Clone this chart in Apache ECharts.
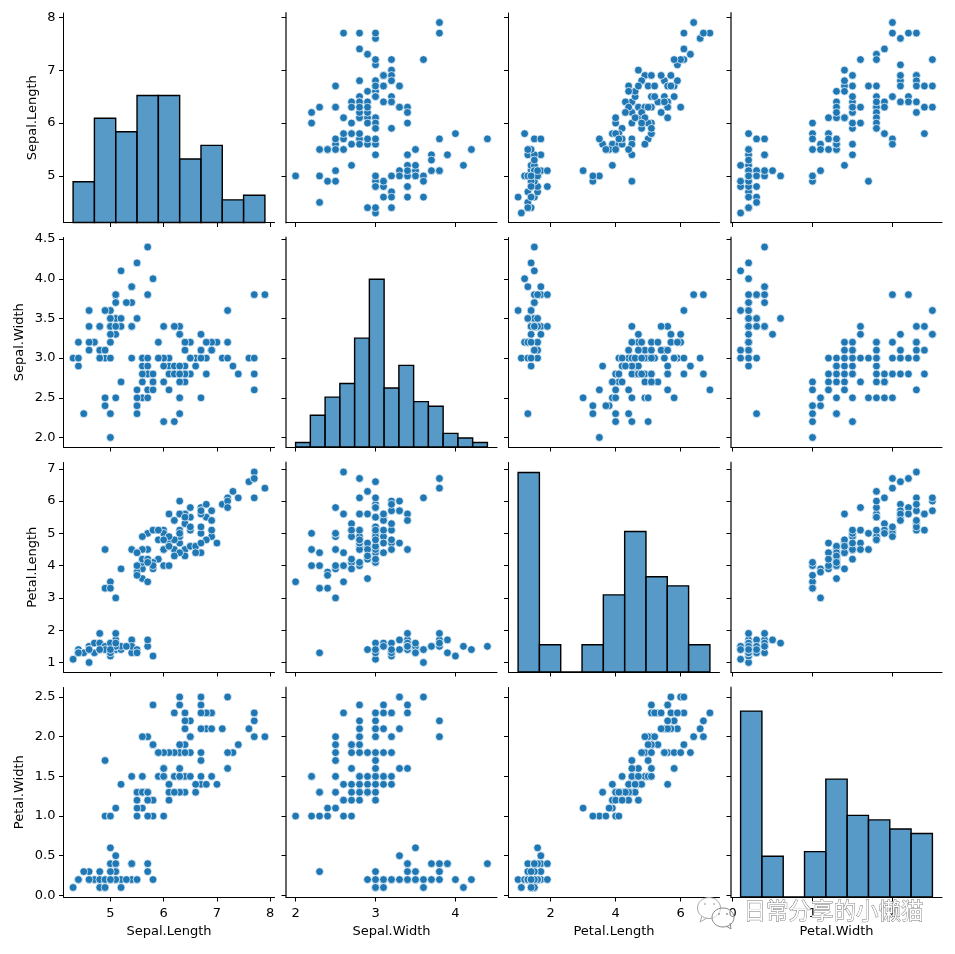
<!DOCTYPE html>
<html lang="en">
<head>
<meta charset="UTF-8">
<title>Iris pair plot</title>
<script src="https://cdn.jsdelivr.net/npm/echarts@6/dist/echarts.min.js"></script>
<style>
  *{margin:0;padding:0}
  html,body{width:100%;height:100%;background:#fff}
  #main{width:955px;height:954px}
</style>
</head>
<body>
<div id="main"></div>
<script>
var varNames = ['Sepal.Length', 'Sepal.Width', 'Petal.Length', 'Petal.Width'];

var sepalLength = [5.1,4.9,4.7,4.6,5.0,5.4,4.6,5.0,4.4,4.9,5.4,4.8,4.8,4.3,5.8,5.7,5.4,5.1,5.7,5.1,5.4,5.1,4.6,5.1,4.8,5.0,5.0,5.2,5.2,4.7,4.8,5.4,5.2,5.5,4.9,5.0,5.5,4.9,4.4,5.1,5.0,4.5,4.4,5.0,5.1,4.8,5.1,4.6,5.3,5.0,
  7.0,6.4,6.9,5.5,6.5,5.7,6.3,4.9,6.6,5.2,5.0,5.9,6.0,6.1,5.6,6.7,5.6,5.8,6.2,5.6,5.9,6.1,6.3,6.1,6.4,6.6,6.8,6.7,6.0,5.7,5.5,5.5,5.8,6.0,5.4,6.0,6.7,6.3,5.6,5.5,5.5,6.1,5.8,5.0,5.6,5.7,5.7,6.2,5.1,5.7,
  6.3,5.8,7.1,6.3,6.5,7.6,4.9,7.3,6.7,7.2,6.5,6.4,6.8,5.7,5.8,6.4,6.5,7.7,7.7,6.0,6.9,5.6,7.7,6.3,6.7,7.2,6.2,6.1,6.4,7.2,7.4,7.9,6.4,6.3,6.1,7.7,6.3,6.4,6.0,6.9,6.7,6.9,5.8,6.8,6.7,6.7,6.3,6.5,6.2,5.9];
var sepalWidth = [3.5,3.0,3.2,3.1,3.6,3.9,3.4,3.4,2.9,3.1,3.7,3.4,3.0,3.0,4.0,4.4,3.9,3.5,3.8,3.8,3.4,3.7,3.6,3.3,3.4,3.0,3.4,3.5,3.4,3.2,3.1,3.4,4.1,4.2,3.1,3.2,3.5,3.6,3.0,3.4,3.5,2.3,3.2,3.5,3.8,3.0,3.8,3.2,3.7,3.3,
  3.2,3.2,3.1,2.3,2.8,2.8,3.3,2.4,2.9,2.7,2.0,3.0,2.2,2.9,2.9,3.1,3.0,2.7,2.2,2.5,3.2,2.8,2.5,2.8,2.9,3.0,2.8,3.0,2.9,2.6,2.4,2.4,2.7,2.7,3.0,3.4,3.1,2.3,3.0,2.5,2.6,3.0,2.6,2.3,2.7,3.0,2.9,2.9,2.5,2.8,
  3.3,2.7,3.0,2.9,3.0,3.0,2.5,2.9,2.5,3.6,3.2,2.7,3.0,2.5,2.8,3.2,3.0,3.8,2.6,2.2,3.2,2.8,2.8,2.7,3.3,3.2,2.8,3.0,2.8,3.0,2.8,3.8,2.8,2.8,2.6,3.0,3.4,3.1,3.0,3.1,3.1,3.1,2.7,3.2,3.3,3.0,2.5,3.0,3.4,3.0];
var petalLength = [1.4,1.4,1.3,1.5,1.4,1.7,1.4,1.5,1.4,1.5,1.5,1.6,1.4,1.1,1.2,1.5,1.3,1.4,1.7,1.5,1.7,1.5,1.0,1.7,1.9,1.6,1.6,1.5,1.4,1.6,1.6,1.5,1.5,1.4,1.5,1.2,1.3,1.4,1.3,1.5,1.3,1.3,1.3,1.6,1.9,1.4,1.6,1.4,1.5,1.4,
  4.7,4.5,4.9,4.0,4.6,4.5,4.7,3.3,4.6,3.9,3.5,4.2,4.0,4.7,3.6,4.4,4.5,4.1,4.5,3.9,4.8,4.0,4.9,4.7,4.3,4.4,4.8,5.0,4.5,3.5,3.8,3.7,3.9,5.1,4.5,4.5,4.7,4.4,4.1,4.0,4.4,4.6,4.0,3.3,4.2,4.2,4.2,4.3,3.0,4.1,
  6.0,5.1,5.9,5.6,5.8,6.6,4.5,6.3,5.8,6.1,5.1,5.3,5.5,5.0,5.1,5.3,5.5,6.7,6.9,5.0,5.7,4.9,6.7,4.9,5.7,6.0,4.8,4.9,5.6,5.8,6.1,6.4,5.6,5.1,5.6,6.1,5.6,5.5,4.8,5.4,5.6,5.1,5.1,5.9,5.7,5.2,5.0,5.2,5.4,5.1];
var petalWidth = [0.2,0.2,0.2,0.2,0.2,0.4,0.3,0.2,0.2,0.1,0.2,0.2,0.1,0.1,0.2,0.4,0.4,0.3,0.3,0.3,0.2,0.4,0.2,0.5,0.2,0.2,0.4,0.2,0.2,0.2,0.2,0.4,0.1,0.2,0.2,0.2,0.2,0.1,0.2,0.2,0.3,0.3,0.2,0.6,0.4,0.3,0.2,0.2,0.2,0.2,
  1.4,1.5,1.5,1.3,1.5,1.3,1.6,1.0,1.3,1.4,1.0,1.5,1.0,1.4,1.3,1.4,1.5,1.0,1.5,1.1,1.8,1.3,1.5,1.2,1.3,1.4,1.4,1.7,1.5,1.0,1.1,1.0,1.2,1.6,1.5,1.6,1.5,1.3,1.3,1.3,1.2,1.4,1.2,1.0,1.3,1.2,1.3,1.3,1.1,1.3,
  2.5,1.9,2.1,1.8,2.2,2.1,1.7,1.8,1.8,2.5,2.0,1.9,2.1,2.0,2.4,2.3,1.8,2.2,2.3,1.5,2.3,2.0,2.0,1.8,2.1,1.8,1.8,1.8,2.1,1.6,1.9,2.0,2.2,1.5,1.4,2.3,2.4,1.8,1.8,2.1,2.4,2.3,1.9,2.3,2.5,2.3,1.9,2.0,2.3,1.8];

// histogram counts
var sepalLengthCounts = [9,23,20,28,28,14,17,5,6];
var sepalWidthCounts = [1,7,11,14,24,37,13,18,10,9,3,2,1];
var petalLengthCounts = [44,6,0,6,17,31,21,19,6];
var petalWidthCounts = [41,9,0,10,26,18,17,15,14];

var sepalLengthTicks = [5,6,7,8];
var sepalWidthTicksY = [2,2.5,3,3.5,4,4.5];
var sepalWidthTicksX = [2,3,4];
var petalLengthTicksY = [1,2,3,4,5,6,7];
var petalLengthTicksX = [2,4,6];
var petalWidthTicksY = [0,0.5,1,1.5,2,2.5];
var petalWidthTicksX = [0,1,2];

var values = [sepalLength, sepalWidth, petalLength, petalWidth];
var counts = [sepalLengthCounts, sepalWidthCounts, petalLengthCounts, petalWidthCounts];
var ticksX = [sepalLengthTicks, sepalWidthTicksX, petalLengthTicksX, petalWidthTicksX];
var ticksY = [sepalLengthTicks, sepalWidthTicksY, petalLengthTicksY, petalWidthTicksY];
var yDecimals = [0, 1, 0, 1];
var yNameGap = [24, 37, 24, 37];

// limits the way matplotlib pads them, 5% each side
var ranges = values.map(function (v) {
  var lo = Math.min.apply(null, v), hi = Math.max.apply(null, v), pad = (hi - lo) * 0.05;
  return {lo: lo, hi: hi, min: lo - pad, max: hi + pad};
});
var histMax = 46.2;

var colLeft = [63.5, 286, 508.5, 731];
var rowTop = [13, 237.5, 462.5, 687.5];
var cellW = 211, cellH = 209.5;
var BLUE = '#1f77b4';
var TEXT = '#000';
var FONT = 'DejaVu Sans';
var spineColor = ['#000', '#666', '#000', '#666'];
var spineWidth = [1, 2, 1, 2];

var grid = [], xAxis = [], yAxis = [], series = [];

function histItem(params, api) {
  var a = api.coord([api.value(0), 0]);
  var b = api.coord([api.value(1), api.value(2)]);
  return {
    type: 'rect',
    shape: {x: a[0], y: b[1], width: b[0] - a[0], height: a[1] - b[1]},
    style: {fill: 'rgba(31,119,180,0.75)', stroke: '#000', lineWidth: 1.4}
  };
}

for (var r = 0; r < 4; r++) {
  for (var c = 0; c < 4; c++) {
    var idx = grid.length;
    grid.push({left: colLeft[c], top: rowTop[r], width: cellW, height: cellH});
    xAxis.push({
      type: 'value', gridIndex: idx, min: ranges[c].min, max: ranges[c].max,
      splitLine: {show: false},
      axisLine: {show: true, onZero: false, lineStyle: {color: '#000', width: 1}},
      axisTick: {show: true, length: 4.5, customValues: ticksX[c], lineStyle: {color: '#000', width: 1}},
      axisLabel: {show: r == 3, customValues: ticksX[c], margin: 10, color: TEXT, fontSize: 13, fontFamily: FONT, hideOverlap: false},
      name: r == 3 ? varNames[c] : '', nameLocation: 'middle', nameGap: 28,
      nameTextStyle: {color: TEXT, fontSize: 13, fontFamily: FONT}
    });
    yAxis.push({
      type: 'value', gridIndex: idx, min: ranges[r].min, max: ranges[r].max,
      splitLine: {show: false},
      axisLine: {show: true, onZero: false, lineStyle: {color: spineColor[c], width: spineWidth[c]}},
      axisTick: {show: true, length: 4.5, customValues: ticksY[r], lineStyle: {color: '#000', width: 1}},
      axisLabel: {show: c == 0, customValues: ticksY[r], margin: 8, color: TEXT, fontSize: 13, fontFamily: FONT, hideOverlap: false,
        formatter: (function (d) { return function (v) { return Number(v).toFixed(d); }; })(yDecimals[r])},
      name: c == 0 ? varNames[r] : '', nameLocation: 'middle', nameGap: yNameGap[r],
      nameTextStyle: {color: TEXT, fontSize: 13, fontFamily: FONT}
    });
  }
}

var extraY = 16;
for (var r = 0; r < 4; r++) {
  for (var c = 0; c < 4; c++) {
    var idx = r * 4 + c;
    if (r == c) {
      // histogram gets its own hidden count axis, the visible one keeps the row's ticks
      yAxis.push({type: 'value', gridIndex: idx, min: 0, max: histMax, show: false});
      var step = (ranges[c].hi - ranges[c].lo) / counts[c].length;
      series.push({
        type: 'custom', xAxisIndex: idx, yAxisIndex: extraY++, renderItem: histItem, silent: true,
        encode: {x: [0, 1], y: 2}, clip: false,
        data: counts[c].map(function (n, i) {
          return [ranges[c].lo + i * step, ranges[c].lo + (i + 1) * step, n];
        })
      });
    } else {
      series.push({
        type: 'scatter', xAxisIndex: idx, yAxisIndex: idx, silent: true,
        symbolSize: 7.8, itemStyle: {color: BLUE, borderColor: '#fff', borderWidth: 0.7, opacity: 1},
        data: values[c].map(function (v, i) { return [v, values[r][i]]; })
      });
    }
  }
}

// watermark over the bottom right corner
var wmStroke = '#aaa', wmFill = 'rgba(255,255,255,0.55)';
var chart = echarts.init(document.getElementById('main'));
chart.setOption({
  animation: false,
  backgroundColor: '#fff',
  grid: grid, xAxis: xAxis, yAxis: yAxis, series: series,
  graphic: [
    {type: 'ellipse', z: 100, shape: {cx: 709, cy: 908, rx: 11.5, ry: 10.5}, style: {fill: wmFill, stroke: wmStroke, lineWidth: 1}},
    {type: 'polyline', z: 100, shape: {points: [[702, 916], [700, 922], [707, 918]]}, style: {fill: 'none', stroke: wmStroke, lineWidth: 1}},
    {type: 'ellipse', z: 101, shape: {cx: 723, cy: 917.5, rx: 11, ry: 9.5}, style: {fill: wmFill, stroke: '#888', lineWidth: 1}},
    {type: 'polyline', z: 101, shape: {points: [[726, 926], [731, 929], [730, 923]]}, style: {fill: 'none', stroke: '#888', lineWidth: 1}},
    {type: 'circle', z: 102, shape: {cx: 705, cy: 904, r: 1}, style: {fill: '#bbb'}},
    {type: 'circle', z: 102, shape: {cx: 714, cy: 904, r: 1}, style: {fill: '#bbb'}},
    {type: 'circle', z: 102, shape: {cx: 719, cy: 914, r: 1}, style: {fill: '#999'}},
    {type: 'circle', z: 102, shape: {cx: 727, cy: 914, r: 1}, style: {fill: '#999'}},
    {type: 'text', z: 102, left: 743, top: 899,
      style: {text: '日常分享的小懒猫', fill: '#fff', stroke: '#777', lineWidth: 0.9, fontSize: 22.5, fontFamily: 'Noto Sans CJK SC'}}
  ]
});
</script>
</body>
</html>
